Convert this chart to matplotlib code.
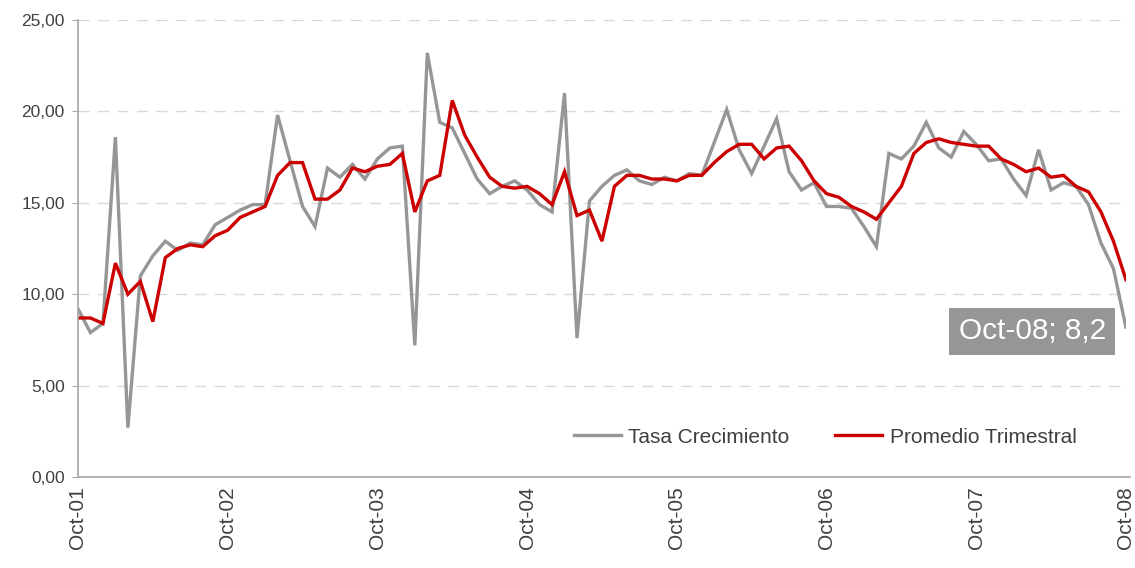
import matplotlib
matplotlib.use("Agg")
import matplotlib.pyplot as plt
from matplotlib.ticker import FuncFormatter, MultipleLocator
import numpy as np

plt.rcParams['font.family'] = ['Liberation Sans', 'DejaVu Sans']

# monthly values, Oct-01 .. Oct-08 (85 months)
tasa_crecimiento = [
    9.2, 7.9, 8.4, 18.6, 2.7, 11.0, 12.1, 12.9, 12.4, 12.8, 12.7, 13.8,
    14.2, 14.6, 14.9, 14.9, 19.8, 17.3, 14.8, 13.7, 16.9, 16.4, 17.1, 16.3,
    17.4, 18.0, 18.1, 7.2, 23.2, 19.4, 19.1, 17.7, 16.3, 15.5, 15.9, 16.2,
    15.7, 14.9, 14.5, 21.0, 7.6, 15.1, 15.9, 16.5, 16.8, 16.2, 16.0, 16.4,
    16.2, 16.6, 16.5, 18.3, 20.1, 17.9, 16.6, 18.1, 19.6, 16.7, 15.7, 16.1,
    14.8, 14.8, 14.7, 13.7, 12.6, 17.7, 17.4, 18.1, 19.4, 18.0, 17.5, 18.9,
    18.2, 17.3, 17.4, 16.3, 15.4, 17.9, 15.7, 16.1, 15.9, 14.9, 12.8, 11.4,
    8.2,
]
promedio_trimestral = [
    8.7, 8.7, 8.4, 11.7, 10.0, 10.7, 8.5, 12.0, 12.5, 12.7, 12.6, 13.2,
    13.5, 14.2, 14.5, 14.8, 16.5, 17.2, 17.2, 15.2, 15.2, 15.7, 16.9, 16.7,
    17.0, 17.1, 17.7, 14.5, 16.2, 16.5, 20.6, 18.7, 17.5, 16.4, 15.9, 15.8,
    15.9, 15.5, 14.9, 16.7, 14.3, 14.6, 12.9, 15.9, 16.5, 16.5, 16.3, 16.3,
    16.2, 16.5, 16.5, 17.2, 17.8, 18.2, 18.2, 17.4, 18.0, 18.1, 17.3, 16.2,
    15.5, 15.3, 14.8, 14.5, 14.1, 15.0, 15.9, 17.7, 18.3, 18.5, 18.3, 18.2,
    18.1, 18.1, 17.4, 17.1, 16.7, 16.9, 16.4, 16.5, 15.9, 15.6, 14.5, 12.9,
    10.8,
]
tick_labels = ['Oct-01', 'Oct-02', 'Oct-03', 'Oct-04', 'Oct-05', 'Oct-06', 'Oct-07', 'Oct-08']

months = np.arange(len(tasa_crecimiento))

fig = plt.figure(figsize=(11.35, 5.68), dpi=100)
ax = fig.add_axes([0.0687, 0.1602, 0.9233, 0.8046])

ax.plot(months, tasa_crecimiento, color='#969696', lw=2.4, label='Tasa Crecimiento',
        solid_joinstyle='miter')
ax.plot(months, promedio_trimestral, color='#CC0000', lw=2.4, label='Promedio Trimestral',
        solid_joinstyle='miter')

ax.set_xlim(0, len(months) - 1)
ax.set_ylim(0, 25)
ax.yaxis.set_major_locator(MultipleLocator(5))
ax.yaxis.set_major_formatter(FuncFormatter(lambda v, p: f"{v:.2f}".replace('.', ',')))
ax.set_xticks(months[::12])
ax.set_xticklabels(tick_labels, rotation=90)

ax.grid(axis='y', color='#D9D9D9', lw=1, linestyle=(0, (8, 6)))
ax.set_axisbelow(True)
for s in ['top', 'right']:
    ax.spines[s].set_visible(False)
for s in ['left', 'bottom']:
    ax.spines[s].set_color('#A6A6A6')
    ax.spines[s].set_linewidth(1.2)
ax.spines['bottom'].set_bounds(0, len(months) - 0.7)

ax.tick_params(axis='y', length=4.5, color='#A6A6A6', labelsize=12.5, labelcolor='#404040', pad=5)
ax.tick_params(axis='x', length=0, labelsize=15, labelcolor='#404040', pad=7)

ax.legend(loc='center', bbox_to_anchor=(0.713, 0.0875), ncol=2, frameon=False,
          fontsize=15, handlelength=2.26, columnspacing=2.2, handletextpad=0.35,
          labelcolor='#404040')

last = len(months) - 1
ax.annotate(f"{tick_labels[-1]}; {tasa_crecimiento[-1]:.1f}".replace('.', ','),
            xy=(last, tasa_crecimiento[-1]), xytext=(-20, -4), textcoords='offset pixels',
            ha='right', va='center', fontsize=21.5, color='white',
            bbox=dict(boxstyle='square,pad=0.32', fc='#969696', ec='none'))

fig.savefig('out.png', dpi=100)
